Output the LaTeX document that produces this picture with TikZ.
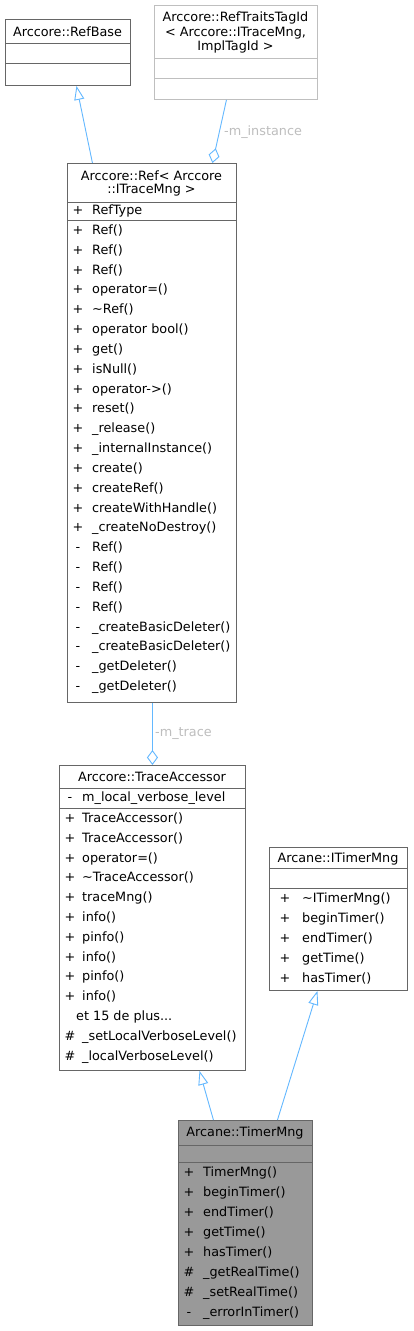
\documentclass[tikz,border=0pt]{standalone}
\usepackage{fontspec}
\setmainfont{DejaVu Sans}
\usetikzlibrary{arrows.meta}
\definecolor{edgeblue}{HTML}{63B8FF}
\definecolor{boxgray}{HTML}{666666}
\definecolor{paleborder}{HTML}{BFBFBF}
\definecolor{labelgray}{HTML}{BEBEBE}
\definecolor{curfill}{HTML}{999999}
\begin{document}
\begin{tikzpicture}[x=1pt,y=-1pt,
		every node/.style={font=\fontsize{12.8}{14}\selectfont, inner sep=0pt},
		classbox/.style={draw=boxgray, line width=0.9pt, fill=white, anchor=north west},
		sepline/.style={draw=boxgray, line width=0.9pt},
		ttl/.style={anchor=base},
		vis/.style={anchor=base},
		member/.style={anchor=base west},
		elabel/.style={anchor=base west, text=labelgray},
		inherit/.style={draw=edgeblue, line width=0.9pt, -{Triangle[open, length=14pt, width=10pt]}},
		aggr/.style={draw=edgeblue, line width=0.9pt, -{Diamond[open, length=15pt, width=11pt]}}]
	\path[fill=white] (0,0) rectangle (413,1331);

	\node[classbox, minimum width=125pt, minimum height=66pt] (refbase) at (5,19) {};
	\draw[sepline] (5,43) -- (130,43);
	\draw[sepline] (5,63) -- (130,63);
	\node[ttl] (refbase-t) at (67.5,36.5) {Arccore::RefBase};

	\node[classbox, draw=paleborder, minimum width=163pt, minimum height=94pt] (traits) at (154,5) {};
	\draw[sepline, draw=paleborder] (154,58) -- (317,58);
	\draw[sepline, draw=paleborder] (154,78) -- (317,78);
	\node[ttl] (traits-t1) at (235.5,21.5) {Arccore::RefTraitsTagId};
	\node[ttl] (traits-t2) at (235.5,36.5) {< Arccore::ITraceMng,};
	\node[ttl] (traits-t3) at (235.5,50.5) {ImplTagId >};

	\node[classbox, minimum width=169pt, minimum height=539pt] (ref) at (67,163) {};
	\draw[sepline] (67,202) -- (236,202);
	\draw[sepline] (67,220) -- (236,220);
	\node[ttl] (ref-t1) at (151.5,180.5) {Arccore::Ref< Arccore};
	\node[ttl] (ref-t2) at (151.5,193.5) {::ITraceMng >};
	\node[vis] (ref-av) at (78,214.5) {+};
	\node[member] (ref-a) at (92,214.5) {RefType};
	\foreach \v/\m [count=\i from 0] in {+/Ref(), +/Ref(), +/Ref(), +/operator=(), +/\textasciitilde Ref(),
			+/operator bool(), +/get(), +/isNull(), +/operator->(), +/reset(), +/\_release(),
			+/\_internalInstance(), +/create(), +/createRef(), +/createWithHandle(), +/\_createNoDestroy(),
			-/Ref(), -/Ref(), -/Ref(), -/Ref(), -/\_createBasicDeleter(), -/\_createBasicDeleter(),
			-/\_getDeleter(), -/\_getDeleter()} {
		\node[vis] (ref-v\i) at (78,234.5+19.83*\i) {\v};
		\node[member] (ref-m\i) at (92,234.5+19.83*\i) {\m};
	}

	\node[classbox, minimum width=186pt, minimum height=305pt] (trace) at (59,765) {};
	\draw[sepline] (59,788) -- (245,788);
	\draw[sepline] (59,808) -- (245,808);
	\node[ttl] (trace-t) at (152,781.5) {Arccore::TraceAccessor};
	\node[vis] (trace-av) at (70,801.5) {-};
	\node[member] (trace-a) at (82,801.5) {m\_local\_verbose\_level};
	\foreach \v/\m [count=\i from 0] in {+/TraceAccessor(), +/TraceAccessor(), +/operator=(),
			+/\textasciitilde TraceAccessor(), +/traceMng(), +/info(), +/pinfo(), +/info(), +/pinfo(), +/info()} {
		\node[vis] (trace-v\i) at (70,822.5+19.8*\i) {\v};
		\node[member] (trace-m\i) at (82,822.5+19.8*\i) {\m};
	}
	\node[member] (trace-more) at (76,1020.5) {et 15 de plus...};
	\foreach \v/\m [count=\i from 11] in {\#/\_setLocalVerboseLevel(), \#/\_localVerboseLevel()} {
		\node[vis] (trace-v\i) at (70,822.5+19.8*\i) {\v};
		\node[member] (trace-m\i) at (82,822.5+19.8*\i) {\m};
	}

	\node[classbox, minimum width=138pt, minimum height=143pt] (itimer) at (269,847) {};
	\draw[sepline] (269,868) -- (407,868);
	\draw[sepline] (269,888) -- (407,888);
	\node[ttl] (itimer-t) at (338,862.5) {Arcane::ITimerMng};
	\foreach \v/\m [count=\i from 0] in {+/\textasciitilde ITimerMng(), +/beginTimer(), +/endTimer(), +/getTime(), +/hasTimer()} {
		\node[vis] (itimer-v\i) at (285,902.5+20*\i) {\v};
		\node[member] (itimer-m\i) at (302,902.5+20*\i) {\m};
	}

	\node[classbox, fill=curfill, minimum width=134pt, minimum height=205pt] (timer) at (178,1120) {};
	\draw[sepline] (178,1145) -- (312,1145);
	\draw[sepline] (178,1162) -- (312,1162);
	\node[ttl] (timer-t) at (245,1136.5) {Arcane::TimerMng};
	\foreach \v/\m [count=\i from 0] in {+/TimerMng(), +/beginTimer(), +/endTimer(), +/getTime(), +/hasTimer(),
			\#/\_getRealTime(), \#/\_setRealTime(), -/\_errorInTimer()} {
		\node[vis] (timer-v\i) at (189,1176.5+20*\i) {\v};
		\node[member] (timer-m\i) at (203,1176.5+20*\i) {\m};
	}

	\draw[inherit] ([xshift=-59.5pt]ref.north) -- ([xshift=8.5pt]refbase.south);
	\draw[aggr] ([xshift=-9.5pt]traits.south) -- ([xshift=60.5pt]ref.north);
	\node[elabel] (lbl-instance) at (224,135.5) {-m\_instance};
	\draw[aggr] ([xshift=0.5pt]ref.south) -- (trace.north);
	\node[elabel] (lbl-trace) at (155,736.5) {-m\_trace};
	\draw[inherit] ([xshift=-32pt]timer.north) -- ([xshift=47pt]trace.south);
	\draw[inherit] ([xshift=32pt]timer.north) -- ([xshift=-21pt]itimer.south);
\end{tikzpicture}
\end{document}
